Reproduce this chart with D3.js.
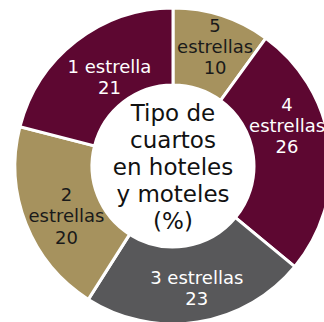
<!DOCTYPE html>
<html>
<head>
<meta charset="utf-8">
<script src="https://cdn.jsdelivr.net/npm/d3@7"></script>
<style>
  html, body { margin: 0; padding: 0; background: #fff; overflow: hidden; }
  svg { display: block; }
</style>
</head>
<body>
<svg id="chart" width="324" height="322"></svg>
<script>
// Share of hotel and motel rooms by star rating (%)
const categories = ["5 estrellas", "4 estrellas", "3 estrellas", "2 estrellas", "1 estrella"];
const numbers = ["5", "4", "3", "2", "1"];
const values = [10, 26, 23, 20, 21];
const colors = ["#a6925e", "#5d0731", "#58585a", "#a6925e", "#5d0731"];
const textColors = ["#1a1a1a", "#ffffff", "#ffffff", "#1a1a1a", "#ffffff"];
const centerTitle = ["Tipo de", "cuartos", "en hoteles", "y moteles", "(%)"];

const W = 324, H = 322;
const cx = 173, cy = 166;
const rOuter = 158, rInner = 81;
const font = "'DejaVu Sans', sans-serif";

const svg = d3.select("#chart");
const g = svg.append("g").attr("transform", `translate(${cx},${cy})`);

const data = categories.map((c, i) => ({ cat: c, num: numbers[i], value: values[i], i }));

const pie = d3.pie().value(d => d.value).sort(null);
const arc = d3.arc().innerRadius(rInner).outerRadius(rOuter);
const arcs = pie(data);

g.selectAll("path.slice")
  .data(arcs)
  .join("path")
  .attr("class", "slice")
  .attr("d", arc)
  .attr("fill", d => colors[d.data.i])
  .attr("stroke", "#fff")
  .attr("stroke-width", 3)
  .attr("stroke-linejoin", "miter");

// multi-line text block centred on (0,0) of its parent
function block(sel, lines, lineH, size, fill) {
  const off = -(lines.length - 1) * lineH / 2;
  const t = sel.append("text")
    .attr("text-anchor", "middle")
    .attr("font-family", font)
    .attr("font-size", size)
    .attr("fill", fill);
  lines.forEach((s, k) => {
    t.append("tspan")
      .attr("x", 0)
      .attr("y", off + k * lineH)
      .attr("dy", "0.35em")
      .text(s);
  });
}

// label anchor: ring midpoint, nudged so lines stay inside the visible ring
const labelArc = d3.arc().innerRadius(120).outerRadius(120);
const nudge = { "4 estrellas": [-5, -25], "1 estrella": [10, 6], "2 estrellas": [5, 6], "3 estrellas": [5, 4], "5 estrellas": [5, -5] };

g.selectAll("g.lbl")
  .data(arcs)
  .join("g")
  .attr("class", "lbl")
  .attr("transform", d => {
    const [x, y] = labelArc.centroid(d);
    const n = nudge[d.data.cat] || [0, 0];
    return `translate(${x + n[0]},${y + n[1]})`;
  })
  .each(function(d) {
    const lines = d.data.cat === "1 estrella" || d.data.cat === "3 estrellas"
      ? [d.data.cat, String(d.data.value)]
      : [d.data.num, "estrellas", String(d.data.value)];
    block(d3.select(this), lines, 21.2, 18, textColors[d.data.i]);
  });

// centre title
const title = g.append("g").attr("transform", "translate(0,1)");
block(title, centerTitle, 27, 23, "#111");
</script>
</body>
</html>
